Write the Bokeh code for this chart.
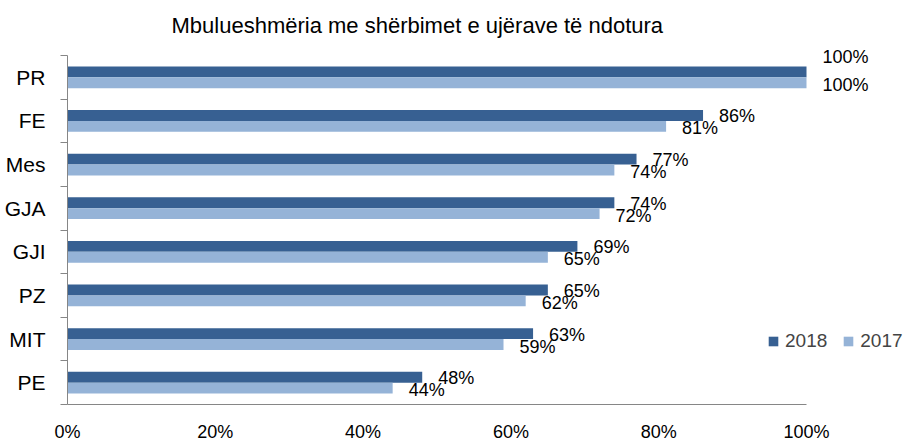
from bokeh.plotting import figure
from bokeh.models import (ColumnDataSource, LabelSet, Range1d, FixedTicker,
                          NumeralTickFormatter, Legend, LegendItem)
from bokeh.core.properties import value
from bokeh.embed import file_html
from bokeh.resources import INLINE

categories = ["PR", "FE", "Mes", "GJA", "GJI", "PZ", "MIT", "PE"]
series_names = ["2018", "2017"]
values_2018 = [100, 86, 77, 74, 69, 65, 63, 48]
values_2017 = [100, 81, 74, 72, 65, 62, 59, 44]
x_ticks = [0, 20, 40, 60, 80, 100]
title_text = "Mbulueshmëria me shërbimet e ujërave të ndotura"

FONT = "Liberation Sans"
DARK = "#376092"
LIGHT = "#95B3D7"
AXIS = "#868686"

W, H = 904, 444
LEFT, TOP, BOTTOM = 67, 40, 40
AXIS_TOP_PX = 55          # where the category axis starts (page px)
n = len(categories)
band_px = (H - BOTTOM - AXIS_TOP_PX) / n
X_END = (W - LEFT) / 739  # 100% lies 739 px right of the axis; frame runs to the edge
Y_END = 0.5 + (H - BOTTOM - TOP) / band_px

centers = [n - i for i in range(n)]  # first category on top
bar_h = 0.25

src18 = ColumnDataSource(dict(
    y=[c + bar_h / 2 for c in centers],
    x=[v / 100 for v in values_2018],
    text=[f"{v}%" for v in values_2018],
    dy=[15 if v >= 100 else -1 for v in values_2018],
))
src17 = ColumnDataSource(dict(
    y=[c - bar_h / 2 for c in centers],
    x=[v / 100 for v in values_2017],
    text=[f"{v}%" for v in values_2017],
    dy=[-2 for v in values_2017],
))

p = figure(width=W, height=H, output_backend="svg", toolbar_location=None,
           x_range=Range1d(0, X_END), y_range=Range1d(0.5, Y_END),
           min_border_left=LEFT, min_border_right=0, min_border_top=TOP,
           min_border_bottom=BOTTOM)
p.outline_line_color = None
p.xgrid.visible = False
p.ygrid.visible = False
p.background_fill_color = "white"
p.border_fill_color = "white"

p.title.text = title_text
p.title.text_font = FONT
p.title.text_font_size = "22px"
p.title.text_font_style = "normal"
p.title.text_color = "black"
p.title.align = "left"
p.title.offset = 104
p.title.standoff = 5

r18 = p.hbar(y="y", right="x", left=0, height=bar_h, source=src18,
             fill_color=DARK, line_color=None)
r17 = p.hbar(y="y", right="x", left=0, height=bar_h, source=src17,
             fill_color=LIGHT, line_color=None)

for src in (src18, src17):
    p.add_layout(LabelSet(x="x", y="y", text="text", source=src,
                          x_offset=16, y_offset="dy",
                          text_font=value(FONT), text_font_size=value("18px"),
                          text_baseline="middle", text_color="black"))

# y axis: labels at category centres, ticks at category boundaries
p.yaxis.ticker = FixedTicker(ticks=centers,
                             minor_ticks=[c + 0.5 for c in centers] + [0.5])
p.yaxis.bounds = (0.5, n + 0.5)
p.yaxis.major_label_overrides = {c: cat for c, cat in zip(centers, categories)}
p.yaxis.major_tick_out = 0
p.yaxis.major_tick_in = 0
p.yaxis.minor_tick_out = 7
p.yaxis.minor_tick_in = 0
p.yaxis.minor_tick_line_color = AXIS
p.yaxis.axis_line_color = AXIS
p.yaxis.major_label_standoff = 15
p.yaxis.major_label_text_font = FONT
p.yaxis.major_label_text_font_size = "21px"
p.yaxis.major_label_text_color = "black"

p.xaxis.ticker = FixedTicker(ticks=[t / 100 for t in x_ticks])
p.xaxis.formatter = NumeralTickFormatter(format="0%")
p.xaxis.bounds = (0, 1)
p.xaxis.major_tick_out = 0
p.xaxis.major_tick_in = 0
p.xaxis.minor_tick_out = 0
p.xaxis.minor_tick_in = 0
p.xaxis.axis_line_color = AXIS
p.xaxis.major_label_standoff = 17
p.xaxis.major_label_text_font = FONT
p.xaxis.major_label_text_font_size = "18px"
p.xaxis.major_label_text_color = "black"

legend = Legend(items=[LegendItem(label=series_names[0], renderers=[r18]),
                       LegendItem(label=series_names[1], renderers=[r17])],
                orientation="horizontal", location=(700, 52),
                padding=0, margin=0, spacing=15, label_standoff=6,
                glyph_width=12, glyph_height=12,
                label_text_font=FONT, label_text_font_size="19px",
                border_line_color=None, background_fill_alpha=0)
p.add_layout(legend, "center")

open("out.html", "w").write(file_html(p, INLINE))
